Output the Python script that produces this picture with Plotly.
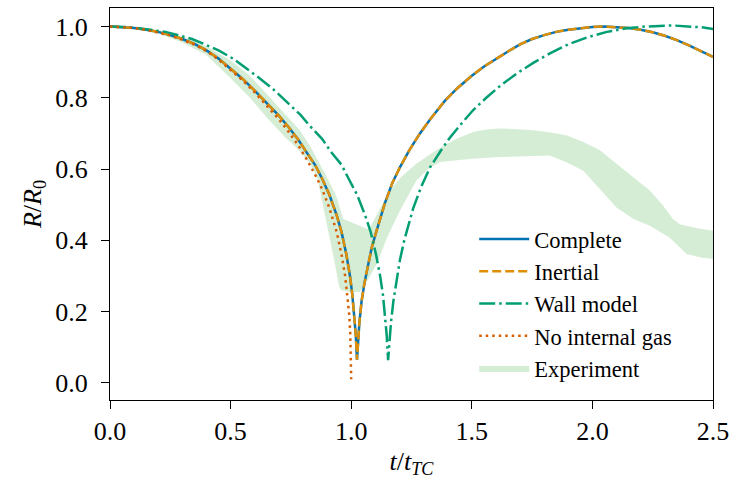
import plotly.graph_objects as go

# ---------------- data ----------------
complete_t = [0.0, 0.05, 0.1, 0.15, 0.2, 0.25, 0.3, 0.35, 0.4, 0.45, 0.5, 0.55, 0.6, 0.65, 0.7,
              0.74, 0.78, 0.82, 0.85, 0.88, 0.91, 0.94, 0.96, 0.98, 0.995, 1.005, 1.013, 1.019,
              1.024, 1.028, 1.034, 1.043, 1.055, 1.07, 1.085, 1.1, 1.12, 1.14, 1.17, 1.202,
              1.24, 1.285, 1.33, 1.389, 1.44, 1.5, 1.551, 1.6, 1.65, 1.70, 1.75, 1.80, 1.85,
              1.90, 1.95, 2.0, 2.051, 2.1, 2.15, 2.2, 2.25, 2.3, 2.35, 2.4, 2.45, 2.5]
complete_R = [1.0, 0.999, 0.996, 0.991, 0.985, 0.976, 0.965, 0.951, 0.933, 0.91, 0.882, 0.853,
              0.82, 0.786, 0.75, 0.718, 0.683, 0.642, 0.612, 0.572, 0.527, 0.47, 0.423, 0.36,
              0.30, 0.245, 0.19, 0.135, 0.065, 0.12, 0.17, 0.229, 0.28, 0.33, 0.379, 0.415,
              0.46, 0.505, 0.56, 0.605, 0.652, 0.70, 0.742, 0.792, 0.827, 0.862, 0.888, 0.91,
              0.93, 0.95, 0.965, 0.976, 0.985, 0.991, 0.996, 0.999, 1.0, 0.999, 0.996, 0.991,
              0.984, 0.974, 0.962, 0.947, 0.932, 0.915]

inertial_t = list(complete_t)
inertial_R = list(complete_R)

wall_t = [0.0, 0.06, 0.11, 0.17, 0.23, 0.28, 0.34, 0.39, 0.45, 0.51, 0.56, 0.62, 0.68, 0.73,
          0.79, 0.83, 0.88, 0.92, 0.96, 0.99, 1.025, 1.058, 1.081, 1.103, 1.12, 1.132, 1.141,
          1.147, 1.153, 1.158, 1.165, 1.175, 1.188, 1.202, 1.22, 1.24, 1.257, 1.29, 1.327,
          1.37, 1.409, 1.46, 1.505, 1.56, 1.62, 1.69, 1.76, 1.83, 1.9, 1.98, 2.06, 2.14, 2.22,
          2.333, 2.4, 2.45, 2.5]
wall_R = [1.0, 0.999, 0.996, 0.991, 0.985, 0.976, 0.965, 0.951, 0.933, 0.91, 0.885, 0.855,
          0.822, 0.79, 0.752, 0.72, 0.684, 0.645, 0.612, 0.572, 0.527, 0.47, 0.423, 0.36,
          0.30, 0.245, 0.19, 0.135, 0.064, 0.12, 0.17, 0.23, 0.29, 0.345, 0.40, 0.45, 0.49,
          0.55, 0.605, 0.65, 0.688, 0.73, 0.765, 0.80, 0.835, 0.87, 0.90, 0.927, 0.95, 0.97,
          0.985, 0.995, 1.0, 1.003, 1.001, 0.998, 0.993]

nogas_t = [0.0, 0.05, 0.1, 0.15, 0.2, 0.25, 0.3, 0.35, 0.4, 0.45, 0.5, 0.55, 0.6, 0.65, 0.7,
           0.74, 0.78, 0.82, 0.85, 0.88, 0.91, 0.94, 0.96, 0.975, 0.985, 0.992, 0.996, 0.999,
           1.0]
nogas_R = [1.0, 0.999, 0.996, 0.991, 0.984, 0.975, 0.963, 0.949, 0.931, 0.907, 0.878, 0.849,
           0.815, 0.779, 0.74, 0.705, 0.667, 0.622, 0.585, 0.543, 0.49, 0.423, 0.36, 0.30,
           0.245, 0.19, 0.14, 0.08, 0.01]

exp_upper_t = [0.0, 0.1, 0.2, 0.3, 0.4, 0.5, 0.58, 0.65, 0.72, 0.787, 0.83, 0.87, 0.905, 0.94,
               0.967, 1.02, 1.071, 1.078, 1.12, 1.16, 1.21, 1.27, 1.33, 1.38, 1.437, 1.506,
               1.56, 1.616, 1.69, 1.754, 1.82, 1.892, 1.96, 2.031, 2.1, 2.17, 2.238, 2.29,
               2.334, 2.362, 2.43, 2.5]
exp_upper_R = [1.0, 0.998, 0.99, 0.972, 0.945, 0.905, 0.862, 0.81, 0.76, 0.709, 0.664, 0.615,
               0.57, 0.521, 0.46, 0.445, 0.431, 0.436, 0.49, 0.54, 0.58, 0.615, 0.643, 0.665,
               0.685, 0.704, 0.711, 0.714, 0.712, 0.709, 0.703, 0.695, 0.677, 0.653, 0.615,
               0.578, 0.54, 0.50, 0.46, 0.445, 0.435, 0.427]
exp_lower_t = [0.0, 0.1, 0.2, 0.3, 0.4, 0.5, 0.58, 0.65, 0.725, 0.78, 0.83, 0.86, 0.878, 0.905,
               0.933, 0.95, 0.96, 1.0, 1.036, 1.07, 1.105, 1.15, 1.202, 1.27, 1.32, 1.368,
               1.409, 1.5, 1.616, 1.72, 1.823, 1.89, 1.961, 2.03, 2.1, 2.17, 2.238, 2.32, 2.39,
               2.45, 2.5]
exp_lower_R = [1.0, 0.995, 0.98, 0.955, 0.92, 0.855, 0.8, 0.745, 0.69, 0.655, 0.615, 0.575,
               0.521, 0.427, 0.332, 0.27, 0.26, 0.255, 0.255, 0.29, 0.332, 0.41, 0.483, 0.568,
               0.6, 0.62, 0.624, 0.629, 0.634, 0.636, 0.638, 0.62, 0.596, 0.545, 0.492, 0.46,
               0.441, 0.408, 0.362, 0.352, 0.348]

x_ticks = [0.0, 0.5, 1.0, 1.5, 2.0, 2.5]
x_tick_labels = ["0.0", "0.5", "1.0", "1.5", "2.0", "2.5"]
y_ticks = [0.0, 0.2, 0.4, 0.6, 0.8, 1.0]
y_tick_labels = ["0.0", "0.2", "0.4", "0.6", "0.8", "1.0"]

# ---------------- figure ----------------
FONT = "Liberation Serif"
fig = go.Figure()

band_x = exp_upper_t + exp_lower_t[::-1]
band_y = exp_upper_R + exp_lower_R[::-1]
fig.add_trace(go.Scatter(x=band_x, y=band_y, fill="toself", mode="lines",
                         line=dict(width=0, color="rgba(44,160,44,0.2)"),
                         fillcolor="rgba(44,160,44,0.2)", name="Experiment", legendrank=5))

fig.add_trace(go.Scatter(x=complete_t, y=complete_R, mode="lines", name="Complete",
                         line=dict(color="#0173b2", width=2.5), legendrank=1))
fig.add_trace(go.Scatter(x=inertial_t, y=inertial_R, mode="lines", name="Inertial",
                         line=dict(color="#de8f05", width=2.5, dash="9px,4px"), legendrank=2))
fig.add_trace(go.Scatter(x=wall_t, y=wall_R, mode="lines", name="Wall model",
                         line=dict(color="#029e73", width=2.5, dash="16px,4px,2.5px,4px"),
                         legendrank=3))
fig.add_trace(go.Scatter(x=nogas_t, y=nogas_R, mode="lines", name="No internal gas",
                         line=dict(color="#d55e00", width=2.5, dash="2.5px,4px"), legendrank=4))

axis_common = dict(showline=True, linecolor="black", linewidth=1.3, mirror=True,
                   ticks="outside", ticklen=8, tickwidth=1.3, tickcolor="black",
                   showgrid=False, zeroline=False, automargin=False,
                   tickfont=dict(family=FONT, size=26, color="black"))

fig.update_xaxes(range=[0, 2.5], tickvals=x_ticks, ticktext=x_tick_labels,
                 title=dict(text="<i>t</i>/<i>t</i><sub><i>TC</i></sub>",
                            font=dict(family=FONT, size=26, color="black"), standoff=8),
                 **axis_common)
fig.update_yaxes(range=[-0.048, 1.052], tickvals=y_ticks, ticktext=y_tick_labels,
                 ticklabelstandoff=8,
                 title=dict(text="<i>R</i>/<i>R</i><sub>0</sub>",
                            font=dict(family=FONT, size=26, color="black"), standoff=6),
                 **axis_common)

fig.update_layout(
    width=730, height=479,
    margin=dict(l=110, r=17, t=8, b=79),
    plot_bgcolor="white", paper_bgcolor="white",
    font=dict(family=FONT, color="black"),
    legend=dict(x=0.604, y=0.245, xanchor="left", yanchor="middle", itemwidth=50,
                bgcolor="rgba(0,0,0,0)", font=dict(family=FONT, size=22.5, color="black"),
                tracegroupgap=0),
    showlegend=True,
)

fig.write_html("out.html", config={"displayModeBar": False},
               post_script="document.body.style.margin='0';document.body.style.padding='0';"
                           "document.body.style.overflow='hidden';")
